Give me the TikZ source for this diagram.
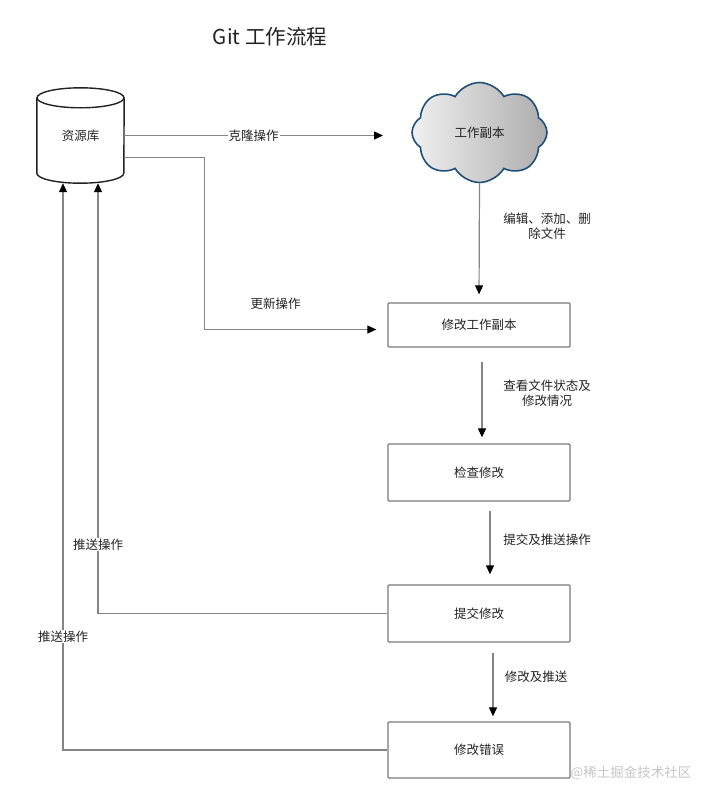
\documentclass[tikz,border=0pt]{standalone}
\usepackage{fontspec}
\usepackage{tikz}
\usetikzlibrary{positioning,arrows.meta,shapes.geometric,shapes.symbols}
\newfontfamily\cjkfont{Noto Sans CJK SC}
\definecolor{linegray}{HTML}{858585}
\definecolor{boxgray}{HTML}{7A7A7A}
\definecolor{cloudblue}{HTML}{1F4E79}
\definecolor{txtgray}{HTML}{222222}
\tikzset{
	stage/.style={draw=boxgray, line width=1.3pt, rounded corners=1pt, minimum width=182pt, inner sep=0pt},
	flow/.style={draw=linegray, line width=1.2pt, -{Triangle[length=9pt,width=8pt,color=black]}},
	lbl/.style={font=\cjkfont\fontsize{12.5}{15.5}\selectfont, text=txtgray, inner sep=1pt},
	dbline/.style={draw=txtgray, line width=1.4pt},
}

\begin{document}
\begin{tikzpicture}[x=1pt,y=-1pt]
	\useasboundingbox (0,0) rectangle (701,787);

	\node[lbl, font=\cjkfont\fontsize{20.5}{24}\selectfont] (title) at (270,37) {Git 工作流程};

	% repository drum
	\node[lbl, minimum width=87pt, minimum height=95pt] (repo) at (80.5,135.5) {资源库};
	\draw[dbline] ([yshift=-10pt]repo.north) ellipse [x radius=43.5pt, y radius=10pt];
	\draw[dbline] ([yshift=-10pt]repo.north west) -- ([yshift=10pt]repo.south west)
		arc[start angle=180, end angle=360, x radius=43.5pt, y radius=10pt] -- ([yshift=-10pt]repo.north east);

	\node[lbl, cloud, cloud puffs=8, cloud puff arc=120, aspect=1.35, draw=cloudblue, line width=1.6pt,
		left color=gray!12, right color=gray!65, minimum width=135pt, minimum height=100pt] (copy) at (479.5,132.5) {工作副本};
	\coordinate (cloneend) at (383,135.5);

	\node[lbl, stage, minimum height=44pt] (modify) at (479,325) {修改工作副本};
	\node[lbl, stage, minimum height=57pt] (check) at (479,472.5) {检查修改};
	\node[lbl, stage, minimum height=57pt] (commit) at (479,613.5) {提交修改};
	\node[lbl, stage, minimum height=56pt] (fixit) at (479,750) {修改错误};

	\draw[flow] (repo.east) -- node[lbl, fill=white] (clonelbl) {克隆操作} (cloneend);
	\draw[flow, shorten >=11pt] ([yshift=-22pt]repo.east) -- ++(80,0) |- node[lbl, pos=0.695, above=18pt] (updlbl) {更新操作} ([yshift=-4.5pt]modify.west);

	\draw[flow, shorten >=8pt] (copy.south) -- (modify.north);
	\node[lbl, align=center] (editlbl) at (547,226) {编辑、添加、删\\除文件};

	\draw[flow, shorten <=14pt, shorten >=6pt] ([xshift=3pt]modify.south) -- ([xshift=3pt]check.north);
	\node[lbl, align=center] (statlbl) at (547,393) {查看文件状态及\\修改情况};

	\draw[flow, shorten <=9pt, shorten >=10pt] ([xshift=11pt]check.south) -- ([xshift=11pt]commit.north);
	\node[lbl] (pushlbl) at (547,540) {提交及推送操作};

	\draw[flow, shorten <=10pt, shorten >=5pt] ([xshift=14pt]commit.south) -- ([xshift=14pt]fixit.north);
	\node[lbl] (fixlbl) at (536,677) {修改及推送};

	\draw[flow] (commit.west) -| node[lbl, fill=white, pos=0.58] (push1) {推送操作} ([xshift=17.5pt]repo.south);
	\draw[flow] (fixit.west) -| node[lbl, fill=white, pos=0.6] (push2) {推送操作} ([xshift=-17.5pt]repo.south);

	\node[lbl, font=\cjkfont\fontsize{13.5}{16}\selectfont, text=gray!45] (mark) at (631,773) {@稀土掘金技术社区};
\end{tikzpicture}
\end{document}
